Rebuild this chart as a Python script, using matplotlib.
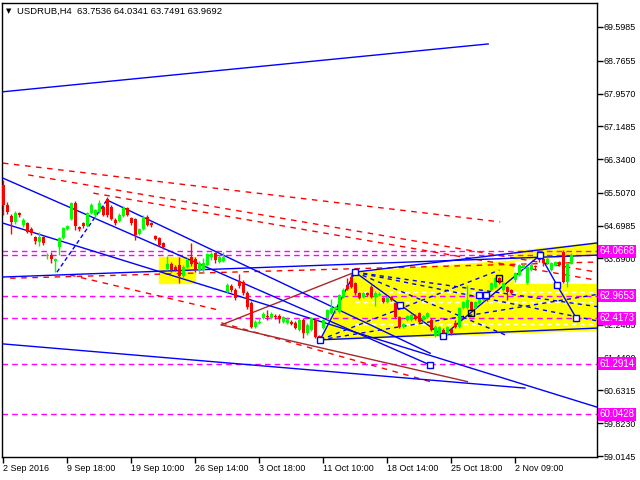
import matplotlib
matplotlib.use("Agg")
import matplotlib.pyplot as plt
from matplotlib.patches import Rectangle, Polygon

# candles (H4 bars)
opens = [65.70, 65.21, 64.93, 64.79, 65.01, 64.71, 64.76, 64.61, 64.42, 64.29,
         64.42, 63.95, 63.97, 63.83, 64.17, 64.39, 64.61, 64.86, 65.26, 64.66,
         64.76, 64.69, 65.01, 64.96, 65.04, 65.16, 65.36, 65.16, 64.84, 64.81,
         64.94, 65.13, 64.89, 64.86, 64.49, 64.61, 64.91, 64.76, 64.44, 64.39,
         64.27, 63.63, 63.75, 63.68, 63.73, 63.46, 63.68, 63.92, 63.87, 63.60,
         63.60, 63.73, 63.92, 64.02, 63.80, 63.83, 63.06, 63.21, 63.11, 63.31,
         63.31, 63.04, 62.79, 62.20, 62.30, 62.42, 62.47, 62.42, 62.47, 62.47,
         62.32, 62.30, 62.32, 62.30, 62.12, 62.37, 62.05, 62.12, 62.37, 61.97,
         62.17, 62.42, 62.54, 62.64, 62.57, 62.94, 63.23, 63.43, 63.28, 63.04,
         62.94, 63.04, 63.18, 62.94, 62.99, 62.91, 62.81, 62.94, 62.79, 62.45,
         62.20, 62.37, 62.37, 62.47, 62.54, 62.37, 62.45, 62.37, 61.97, 62.00,
         62.12, 62.05, 62.15, 62.30, 62.20, 62.67, 62.67, 62.81, 62.67, 62.79,
         62.86, 62.94, 63.11, 63.18, 63.40, 63.11, 63.18, 63.11, 63.36, 63.48,
         63.65, 63.28, 63.60, 63.70, 64.02, 63.87, 63.78, 63.60, 63.73, 63.80,
         64.05, 63.31, 63.7536]
closes = [65.21, 65.04, 64.79, 65.01, 64.96, 64.84, 64.54, 64.52, 64.32, 64.42,
          64.27, 63.97, 63.88, 63.88, 64.39, 64.64, 64.69, 65.26, 64.69, 64.61,
          64.69, 65.01, 65.21, 65.08, 65.26, 64.96, 64.96, 64.86, 64.76, 64.96,
          65.13, 64.96, 64.76, 64.47, 64.61, 64.91, 64.71, 64.71, 64.37, 64.22,
          64.17, 63.75, 63.60, 63.60, 63.46, 63.68, 63.85, 63.75, 63.60, 63.78,
          63.78, 64.00, 64.00, 63.85, 63.92, 63.92, 63.23, 63.11, 62.91, 63.21,
          63.04, 62.69, 62.20, 62.32, 62.32, 62.52, 62.45, 62.52, 62.45, 62.40,
          62.45, 62.40, 62.27, 62.17, 62.37, 62.05, 62.25, 62.42, 61.95, 61.88,
          62.37, 62.62, 62.67, 62.69, 62.99, 63.11, 63.13, 63.18, 63.04, 62.91,
          63.04, 62.99, 62.94, 63.04, 63.01, 62.81, 62.94, 62.86, 62.45, 62.20,
          62.27, 62.47, 62.49, 62.40, 62.32, 62.47, 62.54, 62.12, 62.20, 62.20,
          62.05, 62.20, 62.05, 62.20, 62.67, 62.81, 62.86, 62.62, 62.81, 62.94,
          62.96, 62.86, 63.28, 63.40, 63.28, 63.28, 63.06, 63.04, 63.53, 63.73,
          63.73, 63.68, 63.73, 63.68, 63.85, 63.78, 63.87, 63.78, 63.80, 63.73,
          63.31, 63.78, 63.9692]
highs = [65.82, 65.28, 64.98, 65.06, 65.04, 64.89, 64.79, 64.66, 64.45, 64.54,
         64.45, 64.02, 64.05, 63.90, 64.42, 64.66, 64.71, 65.28, 65.30, 64.69,
         64.79, 65.04, 65.26, 65.11, 65.33, 65.21, 65.40, 65.21, 64.89, 65.01,
         65.18, 65.16, 64.91, 64.89, 64.64, 64.96, 64.96, 64.79, 64.47, 64.42,
         64.29, 63.95, 63.80, 63.73, 63.92, 63.73, 63.90, 64.27, 63.92, 63.83,
         63.90, 64.02, 64.05, 64.05, 63.97, 64.05, 63.28, 63.26, 63.16, 63.50,
         63.36, 63.08, 62.84, 62.37, 62.42, 62.57, 62.62, 62.57, 62.52, 62.52,
         62.47, 62.45, 62.37, 62.35, 62.42, 62.42, 62.30, 62.45, 62.40, 62.00,
         62.40, 62.64, 62.89, 62.72, 63.01, 63.16, 63.41, 63.50, 63.31, 63.06,
         63.06, 63.06, 63.23, 63.08, 63.06, 62.94, 62.96, 62.96, 62.82, 62.47,
         62.30, 62.50, 62.52, 62.52, 62.57, 62.50, 62.57, 62.42, 62.25, 62.22,
         62.17, 62.22, 62.17, 62.37, 62.69, 62.84, 63.23, 62.84, 62.84, 62.96,
         62.99, 62.96, 63.31, 63.43, 63.43, 63.31, 63.21, 63.13, 63.55, 63.75,
         63.78, 63.70, 63.78, 63.73, 64.05, 63.90, 63.92, 63.80, 63.83, 63.83,
         64.10, 63.80, 64.0341]
lows = [64.96, 64.98, 64.49, 64.74, 64.92, 64.66, 64.52, 64.47, 64.25, 64.20,
        64.22, 63.88, 63.78, 63.55, 63.97, 64.37, 64.59, 64.84, 64.59, 64.56,
        64.64, 64.66, 64.98, 64.89, 65.01, 64.94, 64.91, 64.84, 64.71, 64.79,
        64.91, 64.94, 64.71, 64.34, 64.47, 64.59, 64.69, 64.66, 64.34, 64.20,
        64.12, 63.60, 63.55, 63.58, 63.28, 63.41, 63.65, 63.70, 63.55, 63.55,
        63.53, 63.70, 63.85, 63.78, 63.78, 63.80, 63.03, 63.06, 62.86, 63.16,
        62.99, 62.64, 62.17, 62.17, 62.27, 62.40, 62.37, 62.40, 62.40, 62.30,
        62.30, 62.27, 62.25, 62.15, 62.10, 61.92, 62.00, 62.10, 61.92, 61.85,
        62.15, 62.40, 62.52, 62.54, 62.54, 62.91, 63.11, 63.16, 62.99, 62.89,
        62.91, 62.96, 62.91, 62.72, 62.96, 62.79, 62.79, 62.84, 62.42, 62.17,
        62.17, 62.35, 62.35, 62.37, 62.30, 62.35, 62.42, 62.10, 61.95, 61.97,
        62.00, 62.00, 62.00, 62.17, 62.17, 62.64, 62.64, 62.59, 62.64, 62.76,
        62.84, 62.84, 63.08, 63.16, 63.26, 63.08, 62.86, 63.01, 63.31, 63.46,
        63.63, 63.26, 63.58, 63.60, 63.80, 63.70, 63.75, 63.58, 63.70, 63.70,
        63.28, 63.18, 63.7491]

price_ticks = [69.5985, 68.7655, 67.9570, 67.1485, 66.3400, 65.5070, 64.6985,
               63.8900, 63.0815, 62.2485, 61.4400, 60.6315, 59.8230, 59.0145]
date_ticks = [0, 16, 32, 48, 64, 80, 96, 112, 128]
date_labels = ["2 Sep 2016", "9 Sep 18:00", "19 Sep 10:00", "26 Sep 14:00",
               "3 Oct 18:00", "11 Oct 10:00", "18 Oct 14:00", "25 Oct 18:00",
               "2 Nov 09:00"]
levels = [64.0668, 62.9653, 62.4173, 61.2914, 60.0428]
extra_level = 63.9692

# trend lines as (bar, price) pairs
blue_lines = [
    [(-0.1, 68.00), (121.2, 69.18)],
    [(-0.1, 65.87), (106.7, 61.26)],
    [(25.9, 65.33), (106.7, 61.55)],
    [(-0.1, 64.76), (148.4, 60.22)],
    [(-0.1, 61.78), (130.4, 60.69)],
    [(-0.1, 63.43), (148.4, 63.97)],
    [(87.9, 63.55), (148.4, 64.27)],
    [(79.2, 61.88), (148.4, 62.17)],
]
blue_dashed = [
    [(79.2, 61.88), (124.0, 63.60)],
    [(79.2, 61.88), (148.4, 63.00)],
    [(87.9, 63.55), (148.4, 62.70)],
    [(87.9, 63.55), (148.4, 62.35)],
    [(87.9, 63.55), (126.0, 61.98)],
]
zigzag = [(79.2, 61.88), (87.9, 63.55), (109.9, 61.98), (134.2, 63.97),
          (138.4, 63.23), (143.2, 62.42)]
square_pts = [(106.7, 61.26), (99.2, 62.74), (118.9, 62.98), (120.7, 62.98)]
black_squares = [(116.9, 62.54), (123.9, 63.41)]
left_zig = [(13.4, 63.55), (25.9, 65.33)]
red_dashed = [
    [(-0.1, 66.24), (124.2, 64.79)],
    [(6.2, 65.95), (148.4, 63.55)],
    [(22.5, 65.50), (148.4, 63.35)],
    [(1.7, 63.40), (148.4, 63.80)],
    [(16.7, 63.48), (54.5, 62.60)],
    [(54.5, 62.30), (106.7, 60.85)],
]
brown_lines = [
    [(54.5, 62.25), (87.9, 63.55)],
    [(54.5, 62.25), (116.0, 60.85)],
]
white_dashed = [63.06, 62.81, 62.27]
yellow_small = (38.9, 63.28, 9.0, 0.64)
yellow_main = [(79.2, 61.88), (87.9, 63.55), (148.4, 63.97), (148.4, 62.12)]
yellow_top = [(127.9, 64.06), (148.4, 64.27), (148.4, 63.28), (127.9, 63.28)]

fig = plt.figure(figsize=(6.4, 4.8), dpi=100)
ax = fig.add_axes([2 / 640, 1 - 457 / 480, 595 / 640, 454 / 480])
ax.set_xlim(-0.33, 148.4)
ax.set_ylim(58.99, 70.19)

# filled objects overlap like in the terminal: yellow on yellow turns white
ax.add_patch(Rectangle(yellow_small[:2], yellow_small[2], yellow_small[3],
                       color="yellow", zorder=1))
main = Polygon(yellow_main, closed=True, color="yellow", zorder=1)
ax.add_patch(main)
ax.add_patch(Polygon(yellow_top, closed=True, color="yellow", zorder=1))
over = Polygon(yellow_top, closed=True, color="white", zorder=1.1)
ax.add_patch(over)
over.set_clip_path(main)

for lv in white_dashed:
    ax.plot([87.9, 148.4], [lv, lv], color="white", lw=1, ls=(0, (3, 3)), zorder=1.5)

for lv in levels + [extra_level]:
    ax.axhline(lv, color="magenta", lw=1, ls=(0, (4, 3)), zorder=2)

for ln in red_dashed:
    xs, ys = zip(*ln)
    ax.plot(xs, ys, color="red", lw=1, ls=(0, (4, 4)), zorder=2)
for ln in brown_lines:
    xs, ys = zip(*ln)
    ax.plot(xs, ys, color="#a52a2a", lw=1, zorder=2)
for ln in blue_dashed:
    xs, ys = zip(*ln)
    ax.plot(xs, ys, color="blue", lw=1, ls=(0, (3, 3)), zorder=2)
for ln in blue_lines:
    xs, ys = zip(*ln)
    ax.plot(xs, ys, color="blue", lw=1, zorder=3)
xs, ys = zip(*zigzag)
ax.plot(xs, ys, color="blue", lw=1, zorder=3)
ax.plot(xs, ys, ls="none", marker="s", ms=5, mfc="white", mec="blue", mew=1, zorder=5)
xs, ys = zip(*square_pts)
ax.plot(xs, ys, ls="none", marker="s", ms=5, mfc="white", mec="blue", mew=1, zorder=5)
xs, ys = zip(*black_squares)
ax.plot(xs, ys, ls="none", marker="s", ms=5, mfc="none", mec="black", mew=1, zorder=5)
xs, ys = zip(*left_zig)
ax.plot(xs, ys, color="blue", lw=1, ls=(0, (3, 2)), zorder=3)

for i in range(len(opens)):
    o, c, h, l = opens[i], closes[i], highs[i], lows[i]
    col = "#00ff00" if c >= o else "red"
    ax.vlines(i, l, h, color=col, lw=1, zorder=4)
    ax.add_patch(Rectangle((i - 0.4, min(o, c)), 0.8, max(abs(c - o), 0.03),
                           color=col, zorder=4, lw=0))

fs = 6.4
font = "Liberation Sans"
ax.yaxis.tick_right()
ax.set_yticks(price_ticks)
ax.set_yticklabels([f"{v:.4f}" for v in price_ticks], fontsize=fs, family=font)
ax.set_xticks(date_ticks)
ax.set_xticklabels(date_labels, fontsize=fs, family=font, ha="left")
ax.tick_params(axis="both", length=4, width=1, color="black", pad=1)
for s in ax.spines.values():
    s.set_color("black")
    s.set_linewidth(1)

for lv in levels:
    ax.text(1.004, lv, f"{lv:.4f}", transform=ax.get_yaxis_transform(),
            fontsize=fs + 0.6, family=font, color="white", va="center", ha="left",
            bbox=dict(boxstyle="square,pad=0.15", fc="magenta", ec="none"), zorder=10,
            clip_on=False)

fig.text(6 / 640, 1 - 11 / 480, "\u25bc", fontsize=5, va="center", ha="left",
         family=["DejaVu Sans"])
fig.text(17 / 640, 1 - 11 / 480, "USDRUB,H4  63.7536 64.0341 63.7491 63.9692",
         fontsize=fs + 0.4, va="center", ha="left", family=font)

fig.savefig("out.png", dpi=100)
